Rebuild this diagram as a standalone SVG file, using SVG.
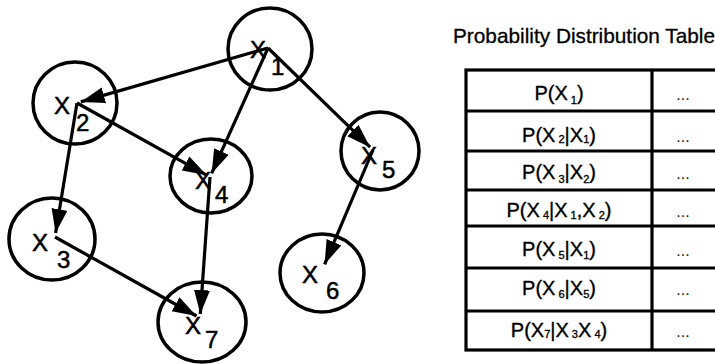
<svg xmlns="http://www.w3.org/2000/svg" width="715" height="364" viewBox="0 0 715 364">
<style>
.nd{fill:none;stroke:#000;stroke-width:3.5}
.lb{font-family:"Liberation Sans",Arial,sans-serif;font-size:24px;fill:#000;stroke:#000;stroke-width:0.5}
.ed{stroke:#000;stroke-width:3.2;fill:none;marker-end:url(#ah)}
.tb{stroke:#000;stroke-width:3.2;fill:none}
.tt{font-family:"Liberation Sans",Arial,sans-serif;font-size:20px;fill:#000;text-anchor:middle;stroke:#000;stroke-width:0.35}
.sb{font-size:11px}
.dt{font-family:"Liberation Sans",Arial,sans-serif;font-size:16px;fill:#222;text-anchor:middle}
</style>
<defs>
<marker id="ah" markerUnits="userSpaceOnUse" markerWidth="26" markerHeight="18" refX="24" refY="8" orient="auto">
<path d="M0,0 L24,8 L0,16 z" fill="#000"/>
</marker>
</defs>
<rect width="715" height="364" fill="#fff"/>
<g id="X1"><ellipse class="nd" cx="270" cy="49" rx="42" ry="41"/><text class="lb" x="250" y="58">X</text><text class="lb" x="271" y="75">1</text></g>
<g id="X2"><ellipse class="nd" cx="75" cy="103" rx="42" ry="41"/><text class="lb" x="54" y="114">X</text><text class="lb" x="76" y="131">2</text></g>
<g id="X3"><ellipse class="nd" cx="52" cy="239" rx="43" ry="41"/><text class="lb" x="32" y="251">X</text><text class="lb" x="57" y="268">3</text></g>
<g id="X4"><ellipse class="nd" cx="211" cy="176" rx="41" ry="37"/><text class="lb" x="195" y="189">X</text><text class="lb" x="215" y="203">4</text></g>
<g id="X5"><ellipse class="nd" cx="380" cy="151" rx="39" ry="39"/><text class="lb" x="361" y="164">X</text><text class="lb" x="382" y="178">5</text></g>
<g id="X6"><ellipse class="nd" cx="322" cy="273" rx="42" ry="39"/><text class="lb" x="302" y="283">X</text><text class="lb" x="326" y="299">6</text></g>
<g id="X7"><ellipse class="nd" cx="202" cy="322" rx="44" ry="40"/><text class="lb" x="185" y="334">X</text><text class="lb" x="205" y="348">7</text></g>
<g id="connectors">
<line class="ed" x1="268" y1="48" x2="80.8" y2="101.9"/>
<line class="ed" x1="268" y1="48" x2="211.6" y2="173.4"/>
<line class="ed" x1="268" y1="48" x2="370.1" y2="147.2"/>
<line class="ed" x1="77" y1="103" x2="55.6" y2="233.1"/>
<line class="ed" x1="77" y1="103" x2="206.5" y2="175.1"/>
<line class="ed" x1="210" y1="177" x2="200.3" y2="314"/>
<line class="ed" x1="55" y1="237" x2="196.5" y2="316"/>
<line class="ed" x1="373" y1="150" x2="324.6" y2="264.3"/>
</g>
<g id="table">
<text x="453" y="43" font-family="Liberation Sans,Arial,sans-serif" font-size="20.8" fill="#000" stroke="#000" stroke-width="0.3">Probability Distribution Table</text>
<rect class="tb" x="466" y="70" width="260" height="280" stroke-width="3.8"/>
<line class="tb" x1="652" y1="70" x2="652" y2="350"/>
<line class="tb" x1="466" y1="111" x2="715" y2="111"/>
<line class="tb" x1="466" y1="151" x2="715" y2="151"/>
<line class="tb" x1="466" y1="190" x2="715" y2="190"/>
<line class="tb" x1="466" y1="226" x2="715" y2="226"/>
<line class="tb" x1="466" y1="268" x2="715" y2="268"/>
<line class="tb" x1="466" y1="311" x2="715" y2="311"/>
<text class="tt" x="559" y="100">P(X<tspan class="sb" dy="4"> 1</tspan><tspan dy="-4">)</tspan></text>
<text class="tt" x="559" y="142">P(X<tspan class="sb" dy="1"> 2</tspan><tspan dy="-1">|X</tspan><tspan class="sb" dy="1">1</tspan><tspan dy="-1">)</tspan></text>
<text class="tt" x="559" y="179">P(X<tspan class="sb" dy="4"> 3</tspan><tspan dy="-4">|X</tspan><tspan class="sb" dy="4">2</tspan><tspan dy="-4">)</tspan></text>
<text class="tt" x="559" y="217">P(X<tspan class="sb" dy="2"> 4</tspan><tspan dy="-2">|X</tspan><tspan class="sb" dy="2"> 1</tspan><tspan dy="-2">,X</tspan><tspan class="sb" dy="2"> 2</tspan><tspan dy="-2">)</tspan></text>
<text class="tt" x="559" y="256">P(X<tspan class="sb" dy="3"> 5</tspan><tspan dy="-3">|X</tspan><tspan class="sb" dy="3">1</tspan><tspan dy="-3">)</tspan></text>
<text class="tt" x="559" y="295">P(X<tspan class="sb" dy="3"> 6</tspan><tspan dy="-3">|X</tspan><tspan class="sb" dy="3">5</tspan><tspan dy="-3">)</tspan></text>
<text class="tt" x="559" y="337">P(X<tspan class="sb" dy="1">7</tspan><tspan dy="-1">|X</tspan><tspan class="sb" dy="1"> 3</tspan><tspan dy="-1">X</tspan><tspan class="sb" dy="1"> 4</tspan><tspan dy="-1">)</tspan></text>
<text class="dt" x="683" y="100">...</text>
<text class="dt" x="683" y="142">...</text>
<text class="dt" x="683" y="179">...</text>
<text class="dt" x="683" y="217">...</text>
<text class="dt" x="683" y="256">...</text>
<text class="dt" x="683" y="295">...</text>
<text class="dt" x="683" y="337">...</text>
</g>
</svg>
